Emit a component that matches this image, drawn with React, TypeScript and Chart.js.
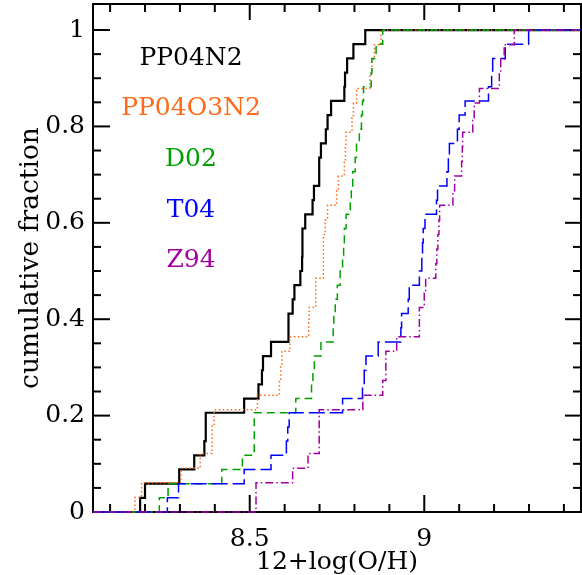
import React, { useEffect, useRef } from 'react';
import { Chart, registerables } from 'chart.js';

Chart.register(...registerables);

// Axis ranges
const xMin = 8.051;
const xMax = 9.449;
const yMin = 0;
const yMax = 1.054;

// Tick values and labels
const xMajorTicks = [8.5, 9];
const xTickLabels = ['8.5', '9'];
const xMinorTicks = [8.1, 8.2, 8.3, 8.4, 8.6, 8.7, 8.8, 8.9, 9.1, 9.2, 9.3, 9.4];
const yMajorTicks = [0, 0.2, 0.4, 0.6, 0.8, 1];
const yTickLabels = ['0', '0.2', '0.4', '0.6', '0.8', '1'];
const yMinorTicks = [0.05, 0.1, 0.15, 0.25, 0.3, 0.35, 0.45, 0.5, 0.55, 0.65, 0.7, 0.75, 0.85, 0.9, 0.95];

// Sorted metallicities for each calibration
const pp04n2 = [8.186, 8.2, 8.298, 8.341, 8.37, 8.374, 8.374, 8.484, 8.525, 8.535, 8.538, 8.561, 8.611, 8.611, 8.623, 8.628, 8.645, 8.65, 8.651, 8.651, 8.659, 8.68, 8.684, 8.699, 8.699, 8.704, 8.718, 8.723, 8.733, 8.771, 8.773, 8.779, 8.797, 8.831];
const pp04o3n2 = [8.171, 8.19, 8.303, 8.358, 8.392, 8.392, 8.398, 8.522, 8.585, 8.589, 8.592, 8.615, 8.669, 8.67, 8.689, 8.689, 8.711, 8.711, 8.711, 8.716, 8.723, 8.749, 8.754, 8.771, 8.774, 8.776, 8.793, 8.797, 8.806, 8.844, 8.85, 8.857, 8.876];
const d02 = [8.241, 8.266, 8.42, 8.479, 8.513, 8.513, 8.513, 8.632, 8.677, 8.681, 8.685, 8.704, 8.739, 8.741, 8.745, 8.751, 8.759, 8.766, 8.769, 8.771, 8.776, 8.788, 8.791, 8.795, 8.802, 8.806, 8.814, 8.82, 8.823, 8.826, 8.848, 8.85, 8.862, 8.881];
const t04 = [8.264, 8.296, 8.484, 8.561, 8.605, 8.609, 8.613, 8.766, 8.823, 8.828, 8.833, 8.868, 8.933, 8.935, 8.954, 8.957, 8.986, 8.993, 8.995, 8.997, 9.002, 9.035, 9.038, 9.065, 9.069, 9.072, 9.095, 9.1, 9.117, 9.184, 9.193, 9.196, 9.232, 9.299];
const z94 = [8.518, 8.518, 8.623, 8.667, 8.699, 8.699, 8.699, 8.824, 8.881, 8.89, 8.89, 8.921, 8.986, 8.986, 9.0, 9.004, 9.033, 9.036, 9.039, 9.042, 9.044, 9.082, 9.087, 9.107, 9.109, 9.11, 9.139, 9.143, 9.158, 9.215, 9.219, 9.229, 9.258];

const seriesNames = ['PP04N2', 'PP04O3N2', 'D02', 'T04', 'Z94'];
const seriesValues = [pp04n2, pp04o3n2, d02, t04, z94];
const seriesColors = ['#000000', '#ff6a1a', '#00a000', '#0000ff', '#a000a0'];
const seriesDash: number[][] = [[], [1.5, 2.5], [8, 5], [16, 5], [8, 3, 1.5, 3]];
const seriesWidth = [2.2, 1.5, 1.5, 1.5, 1.5];
const seriesOrder = [5, 4, 3, 2, 1];

const FONT = "'DejaVu Serif', serif";

function ecdf(values: number[]) {
  const n = values.length;
  const pts = [{ x: xMin, y: 0 }];
  values.forEach((v, i) => pts.push({ x: v, y: (i + 1) / n }));
  pts.push({ x: xMax, y: 1 });
  return pts;
}

const framePlugin = {
  id: 'frameTicks',
  beforeDatasetsDraw(chart: any) {
    const { ctx, chartArea, scales } = chart;
    const { left, right, top, bottom } = chartArea;
    const xs = scales.x;
    const ys = scales.y;
    ctx.save();
    ctx.strokeStyle = '#000';
    ctx.lineWidth = 2;
    ctx.strokeRect(left, top, right - left, bottom - top);
    const seg = (x1: number, y1: number, x2: number, y2: number) => {
      ctx.beginPath();
      ctx.moveTo(x1, y1);
      ctx.lineTo(x2, y2);
      ctx.stroke();
    };
    xMajorTicks.forEach((v) => {
      const p = xs.getPixelForValue(v);
      seg(p, bottom, p, bottom - 17);
      seg(p, top, p, top + 16);
    });
    xMinorTicks.forEach((v) => {
      const p = xs.getPixelForValue(v);
      seg(p, bottom, p, bottom - 8);
      seg(p, top, p, top + 8);
    });
    yMajorTicks.forEach((v) => {
      const p = ys.getPixelForValue(v);
      seg(left, p, left + 17, p);
      seg(right, p, right - 16, p);
    });
    yMinorTicks.forEach((v) => {
      const p = ys.getPixelForValue(v);
      seg(left, p, left + 8, p);
      seg(right, p, right - 8, p);
    });
    ctx.restore();
  },
};

const labelPlugin = {
  id: 'seriesLabels',
  afterDatasetsDraw(chart: any) {
    const { ctx } = chart;
    const baselines = [65, 115, 165.5, 216.5, 267];
    ctx.save();
    ctx.font = `25px ${FONT}`;
    ctx.textAlign = 'center';
    ctx.textBaseline = 'alphabetic';
    seriesNames.forEach((name, i) => {
      ctx.fillStyle = seriesColors[i];
      ctx.fillText(name, 191, baselines[i]);
    });
    ctx.restore();
  },
};

export default function App() {
  const canvasRef = useRef<HTMLCanvasElement | null>(null);

  useEffect(() => {
    if (!canvasRef.current) return;
    const chart = new Chart(canvasRef.current, {
      type: 'line',
      data: {
        datasets: seriesNames.map((name, i) => ({
          label: name,
          data: ecdf(seriesValues[i]),
          borderColor: seriesColors[i],
          backgroundColor: seriesColors[i],
          borderWidth: seriesWidth[i],
          borderDash: seriesDash[i],
          stepped: 'before' as const,
          pointRadius: 0,
          fill: false,
          tension: 0,
          clip: false as any,
          order: seriesOrder[i],
        })),
      },
      options: {
        animation: false,
        responsive: false,
        maintainAspectRatio: false,
        layout: { padding: { top: 4, right: 1, left: 0, bottom: 0 } },
        plugins: {
          legend: { display: false },
          tooltip: { enabled: false },
        },
        scales: {
          x: {
            type: 'linear',
            min: xMin,
            max: xMax,
            grid: { display: false, drawTicks: false },
            border: { display: false },
            afterBuildTicks: (scale: any) => {
              scale.ticks = xMajorTicks.map((v) => ({ value: v }));
            },
            afterFit: (scale: any) => {
              scale.height = 63;
              scale.paddingLeft = 0;
              scale.paddingRight = 0;
            },
            ticks: {
              autoSkip: false,
              maxRotation: 0,
              padding: 12,
              color: '#000',
              font: { family: FONT, size: 25 },
              callback: (_v: any, i: number) => xTickLabels[i],
            },
            title: {
              display: true,
              text: '12+log(O/H)',
              color: '#000',
              font: { family: FONT, size: 25, lineHeight: 1 },
              padding: { top: 0, bottom: 0 },
            },
          },
          y: {
            type: 'linear',
            min: yMin,
            max: yMax,
            grid: { display: false, drawTicks: false },
            border: { display: false },
            afterBuildTicks: (scale: any) => {
              scale.ticks = yMajorTicks.map((v) => ({ value: v }));
            },
            afterFit: (scale: any) => {
              scale.width = 93;
              scale.paddingTop = 0;
              scale.paddingBottom = 0;
            },
            ticks: {
              padding: 8,
              color: '#000',
              font: { family: FONT, size: 25 },
              callback: (_v: any, i: number) => yTickLabels[i],
            },
            title: {
              display: true,
              text: 'cumulative fraction',
              color: '#000',
              font: { family: FONT, size: 26.5, lineHeight: 1.2 },
              padding: { top: 15, bottom: 0 },
            },
          },
        },
      },
      plugins: [framePlugin, labelPlugin],
    });
    return () => chart.destroy();
  }, []);

  return (
    <div style={{ position: 'fixed', left: 0, top: 0, width: 582, height: 575, background: '#fff' }}>
      <canvas ref={canvasRef} width={582} height={575} style={{ display: 'block' }} />
    </div>
  );
}
